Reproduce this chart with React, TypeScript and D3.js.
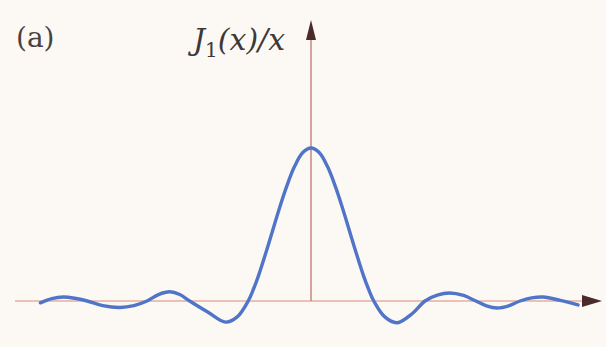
import React from "react";
import * as d3 from "d3";

// Sampled points of the J1(x)/x curve (argument, value)
const curveX = [
  -16.5, -15.8, -15.1, -14.4, -13.65, -12.7, -11.65, -10.8, -10.0, -9.3, -8.6, -8.0, -7.4,
  -6.3, -5.2, -4.5, -3.83, -3.5, -3.2, -2.6, -2.0, -1.5, -1.0, -0.5,
  0,
  0.5, 1.0, 1.5, 2.0, 2.6, 3.2, 3.5, 3.83, 4.5, 5.25, 6.2, 6.95, 7.7, 8.45, 9.3, 10.05,
  10.7, 11.35, 12.05, 12.75, 13.45, 14.15, 15.2, 16.28,
];
const curveY = [
  -0.006, 0.008, 0.013, 0.009, 0.0, -0.015, -0.021, -0.015, 0.0, 0.021, 0.03, 0.021, 0.0,
  -0.036, -0.069, -0.052, 0.0, 0.04, 0.083, 0.184, 0.29, 0.372, 0.44, 0.485,
  0.5,
  0.485, 0.44, 0.372, 0.29, 0.184, 0.083, 0.04, 0.0, -0.052, -0.071, -0.04, 0.0, 0.019, 0.026,
  0.018, 0.0, -0.016, -0.023, -0.016, 0.0, 0.01, 0.013, 0.002, -0.013,
];

const panelLabel = "(a)";

const W = 606;
const H = 347;
const SERIF = "'DejaVu Serif', 'Liberation Serif', serif";

export default function App() {
  const x = d3.scaleLinear().domain([-18, 18]).range([311 - 18 * 16.4, 311 + 18 * 16.4]);
  const y = d3.scaleLinear().domain([-0.1, 0.5]).range([301 + 0.1 * 306, 301 - 0.5 * 306]);

  const pts: [number, number][] = curveX.map((v, i) => [v, curveY[i]]);
  const line = d3
    .line<[number, number]>()
    .x((d) => x(d[0]))
    .y((d) => y(d[1]))
    .curve(d3.curveCatmullRom.alpha(0.5));

  const x0 = x(0);
  const y0 = y(0);
  const axisLeft = 15;
  const axisRight = 602;
  const axisTop = 20;

  return (
    <svg
      width={W}
      height={H}
      style={{ position: "fixed", left: 0, top: 0, display: "block" }}
    >
      <rect x={0} y={0} width={W} height={H} fill="#fcf9f4" />

      {/* horizontal axis */}
      <line x1={axisLeft} y1={y0} x2={axisRight - 16} y2={y0} stroke="#d98a78" strokeWidth={1.2} />
      <path
        d={`M${axisRight},${y0} L${axisRight - 20},${y0 - 6} L${axisRight - 20},${y0 + 6} Z`}
        fill="#4a2a2a"
      />

      {/* vertical axis */}
      <line x1={x0} y1={y0} x2={x0} y2={axisTop + 16} stroke="#b86a66" strokeWidth={1.2} />
      <path
        d={`M${x0},${axisTop} L${x0 - 5},${axisTop + 20} L${x0 + 5},${axisTop + 20} Z`}
        fill="#4a2a2a"
      />

      {/* curve */}
      <path d={line(pts) ?? ""} fill="none" stroke="#5075c8" strokeWidth={3.4} strokeLinecap="round" />

      {/* labels */}
      <text x={16} y={47} fontFamily={SERIF} fontSize={28} fill="#4a4242">
        {panelLabel}
      </text>
      <text x={193} y={50} fontFamily={SERIF} fontSize={30} fontStyle="italic" fill="#3e3838">
        <tspan>J</tspan>
        <tspan fontStyle="normal" fontSize={20} dy={7}>1</tspan>
        <tspan dy={-7}>(x)/x</tspan>
      </text>
    </svg>
  );
}
